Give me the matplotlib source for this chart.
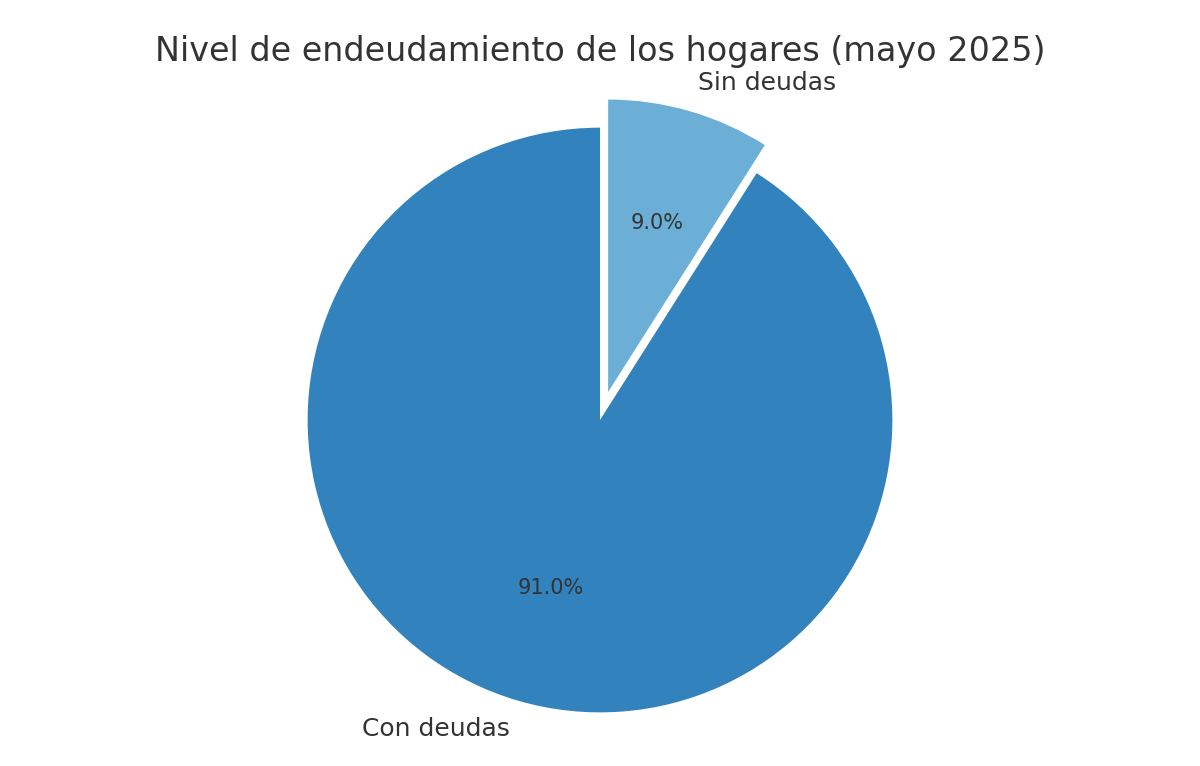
import matplotlib
matplotlib.use('Agg')
import matplotlib.pyplot as plt

labels = ["Sin deudas", "Con deudas"]
values = [9.0, 91.0]
colors = ["#6baed6", "#3182bd"]
explode = [0.1, 0]

fig, ax = plt.subplots(figsize=(12, 7.66), dpi=100)
wedges, texts, autotexts = ax.pie(values, labels=labels, colors=colors, explode=explode,
                                  startangle=90, counterclock=False, autopct="%1.1f%%",
                                  textprops={"color": "#333333", "fontsize": 18})
for t in autotexts:
    t.set_fontsize(15)
ax.axis("equal")
ax.set_title("Nivel de endeudamiento de los hogares (mayo 2025)", fontsize=24, color="#333333")
fig.subplots_adjust(left=0.05, right=0.95, top=0.91, bottom=0.03)
plt.savefig("out.png")
